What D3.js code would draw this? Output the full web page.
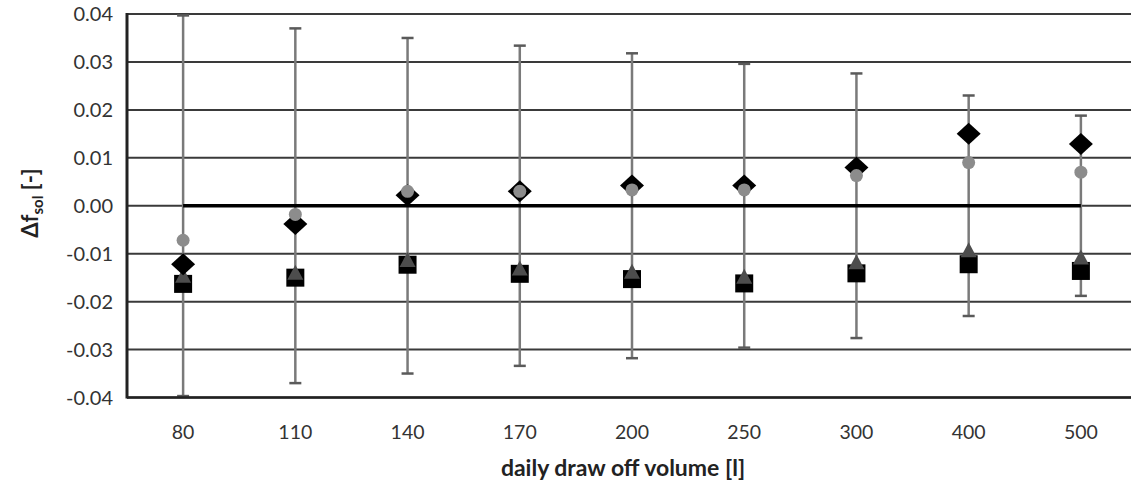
<!DOCTYPE html>
<html><head><meta charset="utf-8">
<script src="https://cdn.jsdelivr.net/npm/d3@7"></script>
<style>
html,body{margin:0;padding:0;background:#fff;}
svg{display:block;font-family:Lato,"Open Sans",sans-serif;}
</style></head>
<body>
<svg id="chart" width="1131" height="486"></svg>
<script>
const categories = ["80","110","140","170","200","250","300","400","500"];
const errorHalf  = [0.0397,0.037,0.035,0.0334,0.0318,0.0296,0.0276,0.023,0.0188];
const diamonds   = [-0.0122,-0.0038,0.0022,0.003,0.0042,0.0042,0.008,0.015,0.0129];
const circles    = [-0.0072,-0.0018,0.003,0.003,0.0033,0.0033,0.0063,0.009,0.007];
const triangles  = [-0.0148,-0.0142,-0.0115,-0.0133,-0.014,-0.015,-0.012,-0.0095,-0.011];
const squares    = [-0.0163,-0.015,-0.0123,-0.0142,-0.0153,-0.0162,-0.0141,-0.0122,-0.0136];
const zeroLine   = [0,0,0,0,0,0,0,0,0];
const yTicks     = [-0.04,-0.03,-0.02,-0.01,0,0.01,0.02,0.03,0.04];

const svg = d3.select("#chart");
const m = {left:127, top:14, right:1137, bottom:397.5};
const x = d3.scaleBand().domain(categories).range([m.left, m.right]);
const y = d3.scaleLinear().domain([-0.04,0.04]).range([m.bottom, m.top]);
const cx = c => x(c) + x.bandwidth()/2;
const fmt = d => d3.format(".2f")(d).replace("\u2212","-");

// gridlines
svg.append("g").selectAll("line").data(yTicks).join("line")
  .attr("x1", m.left).attr("x2", 1131)
  .attr("y1", d=>y(d)).attr("y2", d=>y(d))
  .attr("stroke", "#3a3a3a").attr("stroke-width", 2);

// y axis labels
svg.append("g").selectAll("text").data(yTicks).join("text")
  .attr("x", 113).attr("y", d=>y(d)).attr("dy","0.35em")
  .attr("text-anchor","end").attr("font-size",20).attr("fill","#333")
  .text(fmt);

// x labels
svg.append("g").selectAll("text").data(categories).join("text")
  .attr("x", d=>cx(d)).attr("y", 439)
  .attr("text-anchor","middle").attr("font-size",19.5).attr("fill","#333")
  .text(d=>d);

// axis title
svg.append("text").attr("x", 623).attr("y", 476).attr("text-anchor","middle")
  .attr("font-size",23).attr("font-weight","bold").attr("fill","#222")
  .text("daily draw off volume [l]");

const yt = svg.append("text").attr("transform","translate(38,203) rotate(-90)")
  .attr("text-anchor","middle").attr("font-size",22).attr("font-weight","bold").attr("fill","#222");
yt.append("tspan").text("Δf");
yt.append("tspan").attr("font-size",15).attr("dy",5).text("sol");
yt.append("tspan").attr("dy",-5).text(" [-]");

// error bars
const eb = svg.append("g");
categories.forEach((c,i)=>{
  const e = errorHalf[i];
  eb.append("line").attr("x1",cx(c)).attr("x2",cx(c)).attr("y1",y(e)).attr("y2",y(-e))
    .attr("stroke","#7a7a7a").attr("stroke-width",2.5);
  [e,-e].forEach(v=>{
    eb.append("line").attr("x1",cx(c)-6).attr("x2",cx(c)+6).attr("y1",y(v)).attr("y2",y(v))
      .attr("stroke","#5a5a5a").attr("stroke-width",2.5);
  });
});

// plot border left & bottom
svg.append("line").attr("x1",m.left).attr("x2",m.left).attr("y1",m.top-1).attr("y2",m.bottom+1)
  .attr("stroke","#222").attr("stroke-width",3);
svg.append("line").attr("x1",m.left).attr("x2",1131).attr("y1",m.bottom).attr("y2",m.bottom)
  .attr("stroke","#222").attr("stroke-width",2.5);

// zero line series
svg.append("path").datum(zeroLine)
  .attr("d", d3.line().x((d,i)=>cx(categories[i])).y(d=>y(d)))
  .attr("fill","none").attr("stroke","#000").attr("stroke-width",3.5);

// squares
svg.append("g").selectAll("rect").data(squares).join("rect")
  .attr("x",(d,i)=>cx(categories[i])-9).attr("y",d=>y(d)-9)
  .attr("width",18).attr("height",18).attr("fill","#000");
// triangles
svg.append("g").selectAll("path").data(triangles).join("path")
  .attr("d",(d,i)=>{const X=cx(categories[i]),Y=y(d);return `M${X},${Y-9}L${X+8},${Y+6}L${X-8},${Y+6}Z`;})
  .attr("fill","#4d4d4d");
// diamonds
svg.append("g").selectAll("path").data(diamonds).join("path")
  .attr("d",(d,i)=>{const X=cx(categories[i]),Y=y(d);return `M${X},${Y-11}L${X+12},${Y}L${X},${Y+11}L${X-12},${Y}Z`;})
  .attr("fill","#000");
// circles
svg.append("g").selectAll("circle").data(circles).join("circle")
  .attr("cx",(d,i)=>cx(categories[i])).attr("cy",d=>y(d)).attr("r",6.5)
  .attr("fill","#8c8c8c");
</script>
</body></html>
